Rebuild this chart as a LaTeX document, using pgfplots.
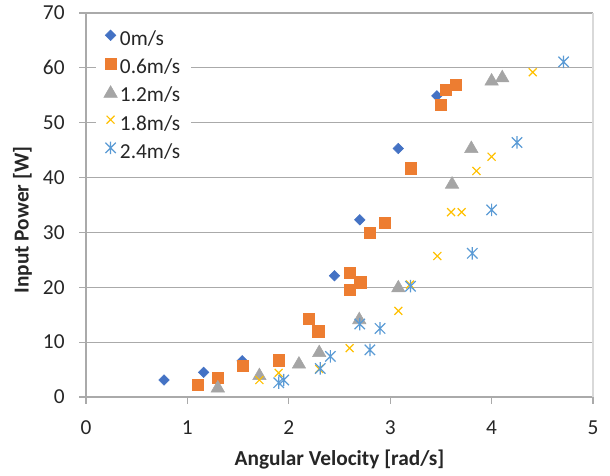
\documentclass[border=0pt]{standalone}
\usepackage{pgfplots}
\pgfplotsset{compat=1.18}
\usepackage{fontspec}
\setmainfont{Carlito}
\definecolor{cBlue}{RGB}{68,114,196}
\definecolor{cOrange}{RGB}{237,125,49}
\definecolor{cGray}{RGB}{165,165,165}
\definecolor{cYellow}{RGB}{255,192,0}
\definecolor{cLBlue}{RGB}{91,155,213}
\definecolor{gridc}{RGB}{170,170,170}
\definecolor{borderc}{RGB}{217,217,217}
\pgfdeclareplotmark{xstar}{%
  \pgfpathmoveto{\pgfqpoint{-\pgfplotmarksize}{-\pgfplotmarksize}}%
  \pgfpathlineto{\pgfqpoint{\pgfplotmarksize}{\pgfplotmarksize}}%
  \pgfpathmoveto{\pgfqpoint{-\pgfplotmarksize}{\pgfplotmarksize}}%
  \pgfpathlineto{\pgfqpoint{\pgfplotmarksize}{-\pgfplotmarksize}}%
  \pgfpathmoveto{\pgfqpoint{0pt}{-1.2\pgfplotmarksize}}%
  \pgfpathlineto{\pgfqpoint{0pt}{1.2\pgfplotmarksize}}%
  \pgfusepathqstroke}
\begin{document}
\begin{tikzpicture}
\begin{axis}[
  scale only axis,
  width=380.25pt, height=288pt,
  xmin=0, xmax=5, ymin=0, ymax=70,
  xtick={0,1,2,3,4,5}, ytick={0,10,...,70},
  axis x line*=bottom, axis y line*=left,
  axis line style={draw=gridc, line width=0.8pt, -},
  tick align=outside, tick style={draw=gridc, line width=0.8pt},
  major tick length=5pt,
  ymajorgrids, grid style={draw=gridc, line width=0.8pt},
  font=\fontsize{16}{19}\selectfont,
  /pgf/number format/assume math mode=true,
  ticklabel style={font=\fontsize{16}{19}\selectfont, text=black!85},
  yticklabel shift=7.5pt,
  xticklabel shift=9pt,
  xlabel={\textbf{Angular Velocity [rad/s]}},
  ylabel={\textbf{Input Power [W]}},
  x label style={at={(axis description cs:0.5,-0.163)}, anchor=center, text=black!85},
  y label style={at={(axis description cs:-0.125,0.461)}, anchor=center, rotate=0, text=black!85},
  legend style={at={(axis description cs:0.019,0.975)}, anchor=north west, draw=none, fill=white,
    font=\fontsize{16}{19}\selectfont, row sep=4.5pt, inner xsep=6pt, inner ysep=4pt, text=black!85},
  legend image post style={yshift=3pt},
  legend cell align=left,
  clip=false,
]
\addplot[only marks, mark=square*, mark size=2.8pt, mark options={rotate=45, fill=cBlue, draw=cBlue}] coordinates {
(0.77,3.1)(1.16,4.5)(1.54,6.6)(2.45,22.1)(2.70,32.3)(3.08,45.3)(3.46,54.9)};
\addlegendentry{0m/s}
\addplot[only marks, mark=square*, mark size=4.2pt, mark options={fill=cOrange, draw=cOrange}] coordinates {
(1.10,2.2)(1.30,3.5)(1.545,5.65)(1.90,6.7)(2.20,14.2)(2.29,12.0)(2.60,22.7)(2.60,19.5)(2.705,20.9)(2.80,29.9)(2.95,31.8)(3.205,41.7)(3.50,53.2)(3.55,56.0)(3.65,56.9)};
\addlegendentry{0.6m/s}
\addplot[only marks, mark=triangle*, mark size=5.8pt, mark options={fill=cGray, draw=cGray, yshift=-1.4pt}] coordinates {
(1.30,1.95)(1.71,4.2)(2.10,6.3)(2.30,8.4)(2.695,14.4)(3.08,20.2)(3.61,39.1)(3.80,45.6)(4.00,57.9)(4.105,58.5)};
\addlegendentry{1.2m/s}
\addplot[only marks, mark=x, mark size=4.2pt, mark options={draw=cYellow, line width=0.9pt}] coordinates {
(1.71,3.1)(1.90,4.4)(2.30,5.1)(2.60,8.9)(3.08,15.7)(3.195,20.5)(3.465,25.7)(3.60,33.7)(3.705,33.7)(3.85,41.2)(4.0,43.8)(4.405,59.2)};
\addlegendentry{1.8m/s}
\addplot[only marks, mark=xstar, mark size=3.9pt, mark options={draw=cLBlue, line width=0.9pt}] coordinates {
(1.90,2.6)(1.95,3.1)(2.31,5.2)(2.41,7.4)(2.70,13.3)(2.80,8.6)(2.90,12.5)(3.20,20.2)(3.81,26.2)(4.0,34.1)(4.25,46.4)(4.71,61.1)};
\addlegendentry{2.4m/s}
\draw[borderc, line width=0.8pt] (rel axis cs:1,0) -- (rel axis cs:1,1);
\end{axis}
\path[use as bounding box] (-64.5pt,-58.5pt) rectangle (393pt,297.75pt);
\end{tikzpicture}
\end{document}
